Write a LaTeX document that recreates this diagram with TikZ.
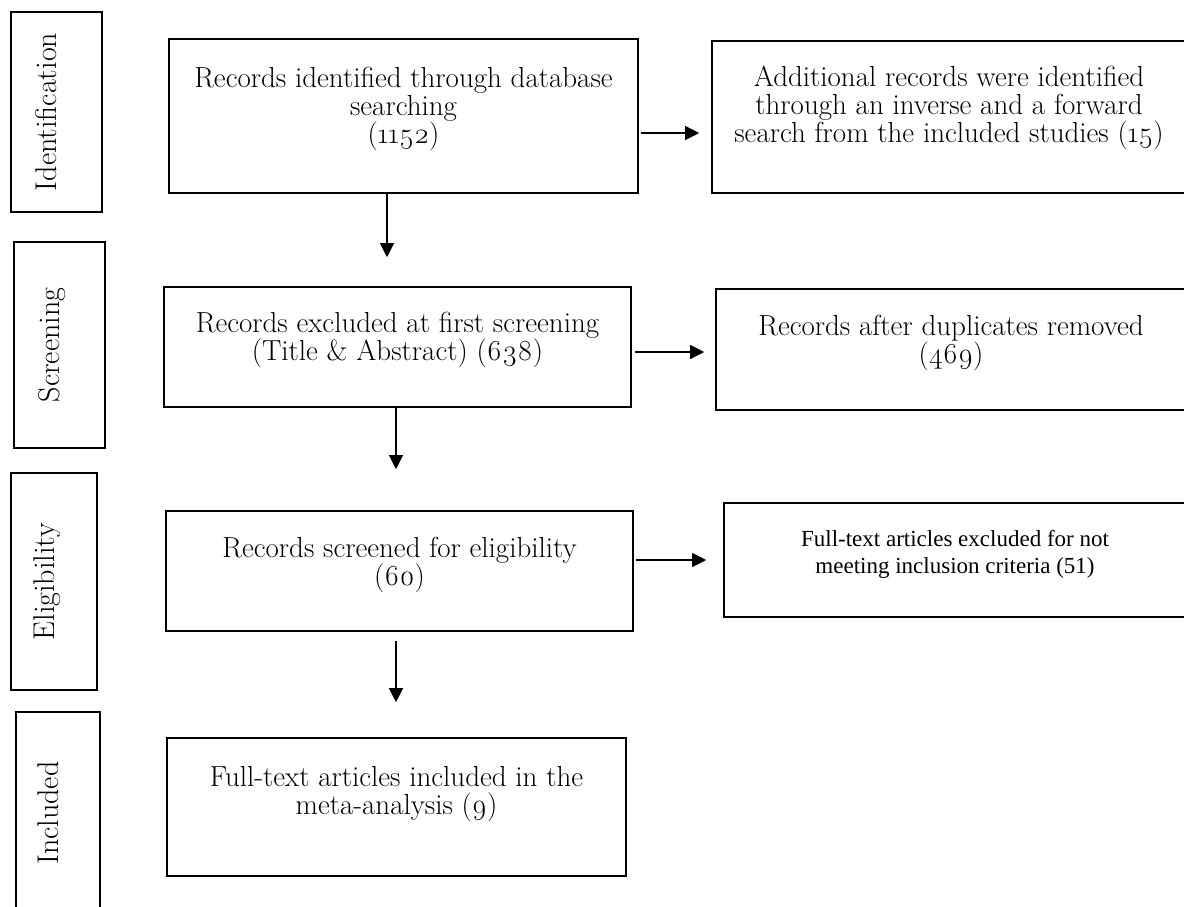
\documentclass[tikz,border=0pt]{standalone}
\usepackage{fontspec}
\setmainfont{Latin Modern Roman}[Numbers=OldStyle]
\newfontfamily\timesfont{Liberation Serif}
\usetikzlibrary{arrows.meta, positioning}

\tikzset{
  phase/.style={draw, line width=1.6pt, rotate=90, inner sep=0pt,
    text height=0pt, text depth=0pt, font=\fontsize{30}{30}\selectfont},
  stepbox/.style={draw, line width=1.6pt, inner sep=0pt},
  boxtext/.style={align=center, inner sep=0pt, font=\fontsize{29}{28}\selectfont},
  arr/.style={line width=1.2pt, -{Triangle[length=14pt, width=14pt]}}
}

\begin{document}
\begin{tikzpicture}[x=1pt, y=-1pt]
  \clip (0,0) rectangle (1184,906);
  % phases on the left
  \node[phase, minimum width=200pt, minimum height=91pt] (ident) at (56.5,112) {Identification};
  \node[phase, minimum width=206pt, minimum height=91pt] (screen) at (59.5,345) {Screening};
  \node[phase, minimum width=217pt, minimum height=86pt] (elig) at (54,581.5) {Eligibility};
  \node[phase, minimum width=202pt, minimum height=84pt] (incl) at (58,813) {Included};
  % boxes
  \node[stepbox, minimum width=469pt, minimum height=154pt] (rid) at (403.5,116) {};
  \node[stepbox, minimum width=474pt, minimum height=152pt] (add) at (949,117) {};
  \node[stepbox, minimum width=467pt, minimum height=120pt] (rex) at (397.5,347) {};
  \node[stepbox, minimum width=470pt, minimum height=121pt] (rdup) at (951,349.5) {};
  \node[stepbox, minimum width=467pt, minimum height=120pt] (rel) at (399.5,571) {};
  \node[stepbox, minimum width=462pt, minimum height=114pt] (fex) at (955,560) {};
  \node[stepbox, minimum width=459pt, minimum height=138pt] (fin) at (396.5,807) {};
  % texts
  \node[boxtext, below=29pt of rid.north] (ridt) {Records identified through database\\searching\\(1152)};
  \node[boxtext, below=26pt of add.north] (addt) {Additional records were identified\\through an inverse and a forward\\search from the included studies (15)};
  \node[boxtext, below=26pt of rex.north] (rext) {Records excluded at first screening\\(Title \& Abstract) (638)};
  \node[boxtext, below=27pt of rdup.north] (rdupt) {Records after duplicates removed\\(469)};
  \node[boxtext, below=27pt of rel.north] (relt) {Records screened for eligibility\\(60)};
  \node[boxtext, below=28pt of fex.north, font=\timesfont\fontsize{23}{27}\selectfont] (fext) {Full-text articles excluded for not\\meeting inclusion criteria (51)};
  \node[boxtext, below=29pt of fin.north] (fint) {Full-text articles included in the\\meta-analysis (9)};
  % arrows
  \draw[arr, shorten >=29pt] ([xshift=-16.5pt]rid.south) -- ([xshift=-10.5pt]rex.north);
  \draw[arr, shorten <=2pt, shorten >=12pt] ([yshift=-17pt]rid.east) -- ([yshift=-16pt]add.west);
  \draw[arr, shorten >=41pt] ([xshift=-1.5pt]rex.south) -- ([xshift=-3.5pt]rel.north);
  \draw[arr, shorten <=3pt, shorten >=11pt] ([yshift=-5pt]rex.east) -- ([yshift=-2.5pt]rdup.west);
  \draw[arr, shorten <=9pt, shorten >=35pt] ([xshift=-3.5pt]rel.south) -- ([xshift=-0.5pt]fin.north);
  \draw[arr, shorten <=2pt, shorten >=17pt] ([yshift=11pt]rel.east) -- (fex.west);
\end{tikzpicture}
\end{document}
